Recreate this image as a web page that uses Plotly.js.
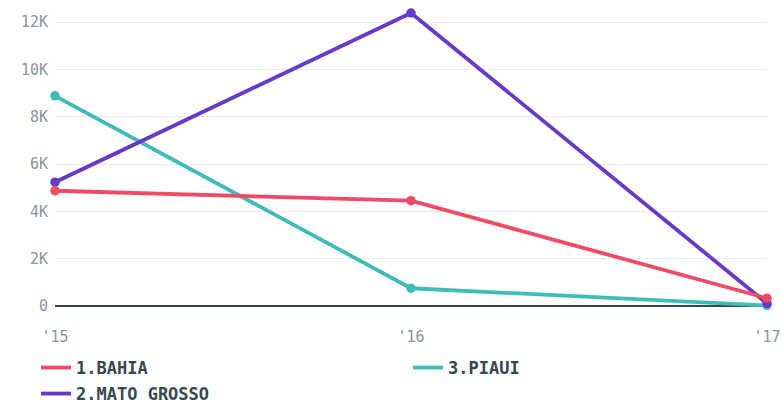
<!DOCTYPE html>
<html><head><meta charset="utf-8">
<script src="https://cdn.plot.ly/plotly-3.0.1.min.js"></script>
<style>html,body{margin:0;padding:0;background:#fff;overflow:hidden}#w{width:782px;height:402px;overflow:hidden;position:relative}#c{width:782px;height:430px}</style>
</head><body><div id="w"><div id="c"></div></div>
<script>
const years = [2015, 2016, 2017];
const tickLabels = ["'15", "'16", "'17"];
const bahia = [4870, 4450, 330];
const matoGrosso = [5230, 12380, 110];
const piaui = [8880, 750, 20];
const yTicks = [0, 2000, 4000, 6000, 8000, 10000, 12000];
const yTickLabels = ["0", "2K", "4K", "6K", "8K", "10K", "12K"];

function tr(name, y, color, leg) {
  return [
    {x: years, y: y, name: name, type: 'scatter', mode: 'lines', legend: leg,
     line: {color: color, width: 3.8}, cliponaxis: false, hoverinfo: 'none'},
    {x: years, y: y, name: name, type: 'scatter', mode: 'markers', showlegend: false,
     marker: {size: 9.5, color: color}, cliponaxis: false, hoverinfo: 'none'}
  ];
}
const data = [].concat(
  tr('3.PIAUI', piaui, '#3fbcb8', 'legend2'),
  tr('2.MATO GROSSO', matoGrosso, '#6639c9', 'legend3'),
  tr('1.BAHIA', bahia, '#f04a64', 'legend')
);
const L = 55, R = 15, T = 6, PB = 310, H = 430;
const plotW = 782 - L - R, plotH = PB - T;
const legFont = {family: 'DejaVu Sans Mono', size: 17, color: '#37474f', weight: 'bold'};
function leg(xpx, ypx) {
  return {x: (xpx - L) / plotW, y: (PB - ypx) / plotH,
    xanchor: 'left', yanchor: 'middle', font: legFont, bgcolor: 'rgba(0,0,0,0)'};
}
const layout = {
  width: 782, height: H,
  margin: {l: L, r: R, t: T, b: H - PB},
  paper_bgcolor: '#fff', plot_bgcolor: '#fff',
  font: {family: 'DejaVu Sans Mono', color: '#8a9399', size: 15},
  showlegend: true,
  xaxis: {range: [2015, 2017], tickvals: years, ticktext: tickLabels, showgrid: false,
    zeroline: false, showline: false, ticks: '', automargin: false, ticklabelstandoff: 16,
    tickfont: {size: 15, color: '#8a9399'}},
  yaxis: {range: [-169, 12676], tickvals: yTicks, ticktext: yTickLabels, showgrid: true,
    gridcolor: '#ebebeb', gridwidth: 1, zeroline: true, zerolinecolor: '#37474f', zerolinewidth: 2.5,
    showline: false, ticks: '', automargin: false, ticklabelstandoff: 6, tickfont: {size: 15, color: '#8a9399'}},
  legend: leg(36, 368),
  legend2: leg(408, 368),
  legend3: leg(36, 394)
};
Plotly.newPlot('c', data, layout, {displayModeBar: false, staticPlot: true});
</script></body></html>
